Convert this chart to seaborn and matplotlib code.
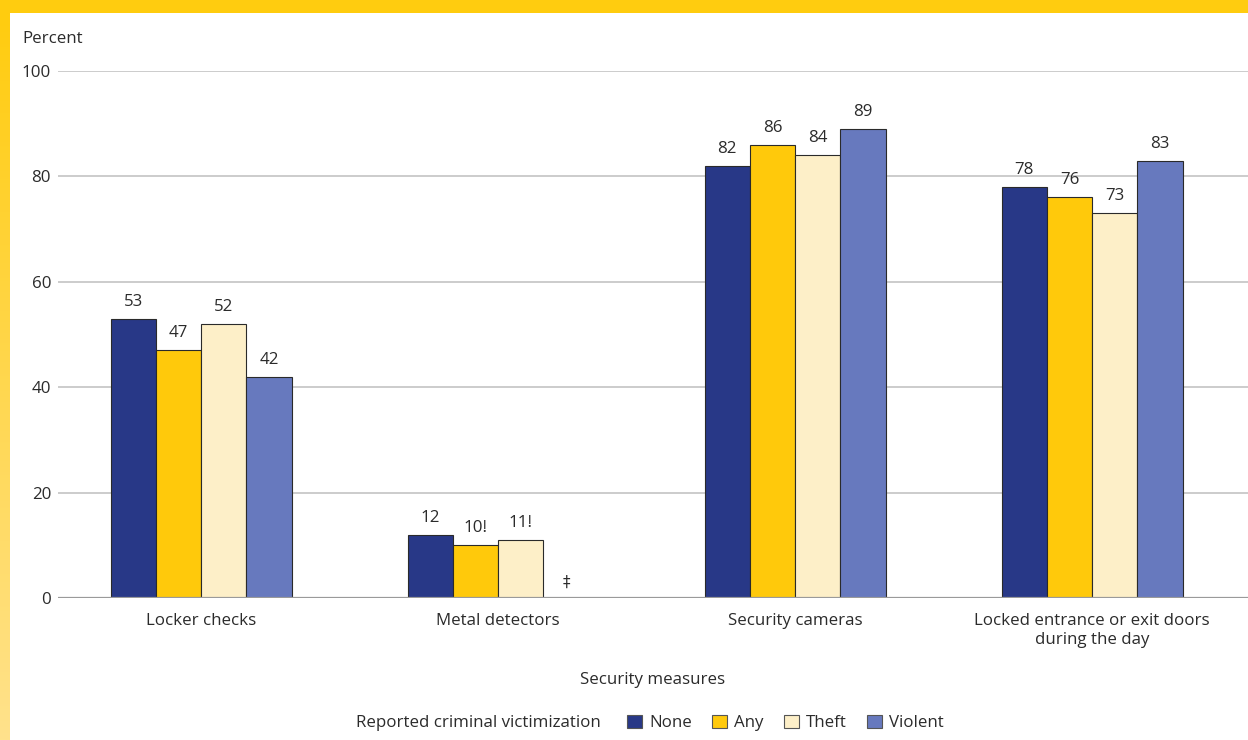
import numpy as np
import pandas as pd
import seaborn as sns
import matplotlib.pyplot as plt
from matplotlib.patches import Patch, Rectangle

# Security measures reported by students, by criminal victimization status
measures = ["Locker checks", "Metal detectors", "Security cameras",
            "Locked entrance or exit doors\nduring the day"]
groups = ["None", "Any", "Theft", "Violent"]
none_vals = [53, 12, 82, 78]
any_vals = [47, 10, 86, 76]
theft_vals = [52, 11, 84, 73]
violent_vals = [42, np.nan, 89, 83]   # metal detectors: reporting standards not met
flags = {("Metal detectors", "Any"): "!", ("Metal detectors", "Theft"): "!"}
y_ticks = [0, 20, 40, 60, 80, 100]

colors = {"None": "#283887", "Any": "#FFC90B", "Theft": "#FDEFC8", "Violent": "#6779BE"}

rows = []
for g, vals in zip(groups, [none_vals, any_vals, theft_vals, violent_vals]):
    for m, v in zip(measures, vals):
        rows.append({"measure": m, "group": g, "value": v})
df = pd.DataFrame(rows)

sns.set_theme(style="white")
plt.rcParams["font.family"] = ["Open Sans", "DejaVu Sans"]
text_color = "#2b2b2b"
fs = 12.2

fig = plt.figure(figsize=(12.48, 7.40), dpi=100)
ax = fig.add_axes([58 / 1248, 1 - 598 / 740, 1 - 58 / 1248, (598 - 71) / 740])

sns.barplot(data=df, x="measure", y="value", hue="group", order=measures,
            hue_order=groups, palette=colors, saturation=1, width=0.61, gap=0,
            edgecolor="#2a2a2a", linewidth=0.8, legend=False, ax=ax, zorder=3)

# value labels above each bar
values = {g: v for g, v in zip(groups, [none_vals, any_vals, theft_vals, violent_vals])}
bar_pos = {}
for container, g in zip(ax.containers, groups):
    for bar in container:
        h = bar.get_height()
        cx = bar.get_x() + bar.get_width() / 2
        mi = int(round(cx))
        bar_pos[(g, mi)] = (bar.get_x(), bar.get_width())
        if np.isnan(h):
            continue
        label = f"{int(h)}{flags.get((measures[mi], g), '')}"
        ax.annotate(label, (cx, h), xytext=(0, 6.5), textcoords="offset points",
                    ha="center", va="bottom", fontsize=fs, color=text_color)

# suppressed estimates: mark the slot with a double dagger
for gi, g in enumerate(groups):
    for mi, v in enumerate(values[g]):
        if np.isnan(v):
            ref_x, ref_w = bar_pos[(groups[gi - 1], mi)]
            cx = ref_x + ref_w * 1.5
            ax.text(cx, 1.6, "\u2021", ha="center", va="bottom",
                    fontsize=11, color=text_color, family=["DejaVu Sans"])

ax.set_ylim(0, 100)
ax.set_xlim(-0.482, 3.525)
ax.set_yticks(y_ticks)
ax.yaxis.grid(True, color="#C4C4C4", linewidth=1.2, zorder=0)
ax.set_axisbelow(True)
ax.axhline(0, color="#9a9a9a", linewidth=1.6, zorder=4)
for s in ax.spines.values():
    s.set_visible(False)
ax.tick_params(axis="both", length=0, labelsize=fs, colors=text_color)
ax.tick_params(axis="y", pad=5)
ax.tick_params(axis="x", pad=11)
for t in ax.get_xticklabels():
    t.set_linespacing(1.25)
ax.set_ylabel("")
ax.set_xlabel("Security measures", fontsize=fs, color=text_color, labelpad=17)

fig.text(22 / 1248, 1 - 39 / 740, "Percent", fontsize=fs, color=text_color,
         ha="left", va="center")

# legend row
fig.text(601 / 1248, 1 - 723 / 740, "Reported criminal victimization", fontsize=fs,
         color=text_color, ha="right", va="center")
handles = [Patch(facecolor=colors[g], edgecolor="#555555", linewidth=0.8, label=g)
           for g in groups]
fig.legend(handles=handles, loc="center left", bbox_to_anchor=(612 / 1248, 1 - 723 / 740),
           ncol=4, frameon=False, fontsize=fs, handlelength=0.85, handleheight=0.85,
           handletextpad=0.45, columnspacing=1.2, labelcolor=text_color)

# yellow frame: top band and a left band fading downward
fig.patches.append(Rectangle((0, 1 - 13 / 740), 1, 13 / 740, transform=fig.transFigure,
                             facecolor="#FFCC0F", edgecolor="none", zorder=10))
band = fig.add_axes([0, 0, 10 / 1248, 1 - 13 / 740])
grad = np.linspace(0, 1, 256).reshape(-1, 1)
top_c = np.array([255, 204, 15]) / 255
bot_c = np.array([255, 226, 140]) / 255
img = top_c[None, None, :] * (1 - grad[..., None]) + bot_c[None, None, :] * grad[..., None]
band.imshow(img, aspect="auto", extent=[0, 1, 0, 1], origin="upper")
band.set_axis_off()

fig.savefig("out.png", dpi=100)
